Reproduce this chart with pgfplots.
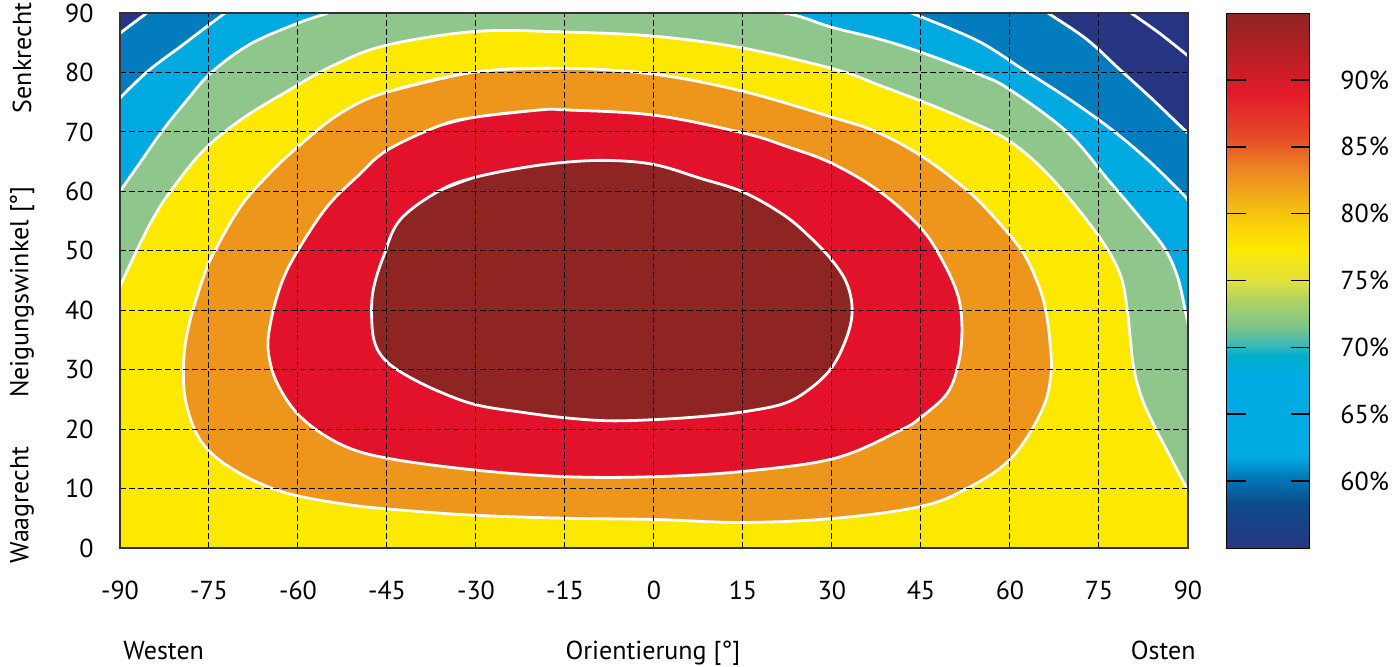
\documentclass[border=0pt]{standalone}
\usepackage{pgfplots}
\pgfplotsset{compat=1.18}
\usepackage{fontspec}
\setmainfont{PT Sans}
\definecolor{cdred}{RGB}{142,37,34}
\definecolor{cred}{RGB}{225,18,42}
\definecolor{corange}{RGB}{238,150,28}
\definecolor{cyellow}{RGB}{253,232,0}
\definecolor{cgreen}{RGB}{143,198,139}
\definecolor{clblue}{RGB}{0,170,225}
\definecolor{cblue}{RGB}{2,124,189}
\definecolor{cnavy}{RGB}{38,54,130}
\pgfkeys{/pgf/number format/assume math mode=true}
\begin{document}
\begin{tikzpicture}[font=\fontsize{13}{15}\selectfont]
\begin{axis}[
  name=main,
  at={(0,0)}, anchor=south west,
  scale only axis, width=534pt, height=267.5pt,
  xmin=-90, xmax=90, ymin=0, ymax=90,
  xtick={-90,-75,...,90}, ytick={0,10,...,90},
  grid=major,
  grid style={black, line width=0.5pt, dash pattern=on 3pt off 1.5pt},
  major tick length=0pt,
  axis on top,
  axis line style={black!80, line width=0.6pt},
  axis background/.style={fill=cyellow},
  xticklabel style={yshift=-13pt},
  yticklabel style={xshift=-9.7pt},
  tick label style={font=\fontsize{13}{15}\selectfont},
  colormap={cb}{
    rgb255(0pt)=(38,54,130)
    rgb255(33pt)=(14,76,140)
    rgb255(53pt)=(0,121,185)
    rgb255(65pt)=(0,160,220)
    rgb255(70pt)=(0,170,226)
    rgb255(130pt)=(0,170,226)
    rgb255(144pt)=(0,176,205)
    rgb255(152pt)=(60,185,180)
    rgb255(165pt)=(125,195,140)
    rgb255(185pt)=(175,210,100)
    rgb255(200pt)=(225,225,60)
    rgb255(225pt)=(255,232,0)
    rgb255(250pt)=(246,196,15)
    rgb255(280pt)=(237,140,35)
    rgb255(310pt)=(230,70,40)
    rgb255(340pt)=(227,26,42)
    rgb255(365pt)=(190,30,38)
    rgb255(400pt)=(142,37,34)
  },
  point meta min=55, point meta max=95,
  colorbar,
  colorbar/width=41.5pt,
  colorbar shift/.style={},
  colorbar style={
    at={(parent axis.north east)}, anchor=north west, xshift=19.5pt,
    scale only axis, width=41.5pt, height=267.5pt,
    axis on top,
    ytick={60,65,...,90},
    yticklabel={\pgfmathprintnumber{\tick}\%},
    yticklabel pos=right,
    ytick pos=both,
    tick align=inside,
    major tick length=9.5pt,
    major tick style={black, line width=0.8pt},
    axis line style={black, line width=0.5pt},
    yticklabel shift=11.7pt,
    yticklabel style={font=\fontsize{13}{15}\selectfont},
  },
]
% 75% contour: green region
\addplot[fill=cgreen, draw=white, line width=1.4pt, smooth, tension=0.6] coordinates {
(-91,41.8) (-90,44) (-87.2,50) (-84.5,55.3) (-81.5,60) (-76,66.8) (-69.7,72) (-62.4,76.5) (-54,81.2) (-45,84.6) (-30,86.9) (-15,86.8) (0,86.1) (15,84.1) (30.6,80.5) (38.1,77.8) (45,75.2) (52,72.3) (60,68.4) (67.3,61.9) (75,52.4) (78.5,46.2) (79.7,40.6) (80.3,35) (80.9,30) (82.3,25) (84.6,20) (87.2,15) (89.8,10) (91,7.5)
} -- (axis cs:95,7.5) -- (axis cs:95,95) -- (axis cs:-95,95) -- (axis cs:-95,41.8) -- cycle;
% 70% contour: light blue, left and right
\addplot[fill=clblue, draw=white, line width=1.4pt, smooth, tension=0.6] coordinates {
(-91,58.5) (-90,60) (-86.5,65) (-83,70) (-79,75) (-74.6,80) (-68,84.8) (-60,88.3) (-55,90) (-53,91)
} -- (axis cs:-53,95) -- (axis cs:-95,95) -- (axis cs:-95,58.5) -- cycle;
\addplot[fill=clblue, draw=white, line width=1.4pt, smooth, tension=0.6] coordinates {
(10,91) (22,90) (30,87.6) (38,85.6) (45,83.4) (55,79.6) (60,77.1) (69.6,70) (76.5,62) (82,55.5) (86,50.5) (88.3,45.4) (89.8,38.7) (90.5,36)
} -- (axis cs:95,36) -- (axis cs:95,95) -- (axis cs:10,95) -- cycle;
% 65% contour: blue
\addplot[fill=cblue, draw=white, line width=1.4pt, smooth, tension=0.6] coordinates {
(-91,74.5) (-90,75.7) (-85.2,80.3) (-79.6,84.5) (-75,88) (-72.3,90) (-71,91)
} -- (axis cs:-71,95) -- (axis cs:-95,95) -- (axis cs:-95,74.5) -- cycle;
\addplot[fill=cblue, draw=white, line width=1.4pt, smooth, tension=0.6] coordinates {
(41,91) (43.4,90) (54.4,85.4) (62.2,80.5) (70,75.5) (77,70.5) (83,65.5) (88.7,60) (90,58.5) (91,57.2)
} -- (axis cs:95,57.2) -- (axis cs:95,95) -- (axis cs:41,95) -- cycle;
% 60% contour: navy
\addplot[fill=cnavy, draw=white, line width=1.4pt, smooth, tension=0.6] coordinates {
(-91,85.8) (-90,86.6) (-87.5,88.5) (-85.5,90) (-84.5,91)
} -- (axis cs:-84.5,95) -- (axis cs:-95,95) -- (axis cs:-95,85.8) -- cycle;
\addplot[fill=cnavy, draw=white, line width=1.4pt, smooth, tension=0.6] coordinates {
(65,91) (66.4,90) (72.9,85.6) (78.5,80.5) (84,75.5) (88.7,71) (90,69.8) (91,68.8)
} -- (axis cs:95,68.8) -- (axis cs:95,95) -- (axis cs:65,95) -- cycle;
% 55% contour line
\addplot[draw=white, line width=1.4pt, smooth, tension=0.6] coordinates {
(79,91) (80.4,90) (85.2,86.6) (90,82.8) (91,82)
};
% 80% contour: orange
\addplot[fill=corange, draw=white, line width=1.4pt, smooth, tension=0.6] coordinates {
(-45,76.7)
(-30,80.1) (-14.9,80.7) (0.1,79.7) (15.1,76.8) (30.6,72.3) (37.5,70) (45,66) (52.4,60.5) (57,56) (62,50) (64.5,45) (65.9,40.6) (66.7,35) (66.9,29.2) (65.3,23) (60.2,15.1) (52.9,10.1) (45,7) (30.5,5.0) (15.1,4.3) (0.1,4.8) (-14.9,5.0) (-30,5.5) (-40.4,6.2) (-51.6,7.3) (-62.8,9.5) (-71.2,13.4) (-76.3,17.9) (-78.8,24.1) (-79.3,30.3) (-78.5,37) (-76,45.4) (-74,50) (-69.7,57.4) (-65,62.8) (-60,67.5) (-52.9,73.1) (-45,76.7)
(-30,80.1) (-14.9,80.7)
};
% 85% contour: red
\addplot[fill=cred, draw=white, line width=1.4pt, smooth, tension=0.6] coordinates {
(-36,71.1)
(-30,72.5) (-19.2,73.7) (-14.9,73.7) (0.1,72.8) (15.1,69.8) (22.5,67.5) (30,64.7) (38,60) (45,53.8) (48.8,48) (51.3,42.2) (51.9,36.6) (51.3,31) (49.4,26) (45,22) (41.5,19.8) (30.5,15.1) (15.1,12.9) (0.1,12.0) (-14.9,12.0) (-30,13.1) (-44.9,15.1) (-52.7,17.4) (-59.4,21.9) (-63.4,27.5) (-65,33) (-64.6,38) (-62.8,44.5) (-60,50.1) (-55.1,57.4) (-50,62.5) (-45,66.9) (-36,71.1)
(-30,72.5) (-19.2,73.7)
};
% 90% contour: dark red
\addplot[fill=cdred, draw=white, line width=1.4pt, smooth, tension=0.6] coordinates {
(-36,60.2)
(-30,62.4) (-22,64) (-14.9,64.9) (-7.6,65.2) (0.1,64.5) (7.8,62.2) (15,59.9) (21.9,56) (26.3,52.3) (30,48.4) (32.5,44.5) (33.4,40) (32.5,35.5) (30,30.4) (26.3,26.8) (21.9,24.3) (15,22.9) (7.8,22.1) (0.1,21.6) (-7.6,21.4) (-14.9,21.9) (-22,22.8) (-30,24.1) (-36.4,26.4) (-42,29.2) (-45.5,31.8) (-47.2,35) (-47.6,40) (-47.2,44) (-45.6,49) (-42.8,55.2) (-36,60.2)
(-30,62.4) (-22,64)
};
\end{axis}
\node[rotate=90] at (-49pt,245pt) {Senkrecht};
\node[rotate=90] at (-49pt,128pt) {Neigungswinkel [°]};
\node[rotate=90] at (-49pt,21.5pt) {Waagrecht};
\node[anchor=base west, inner sep=0pt] at (1.5pt,-55.5pt) {Westen};
\node[anchor=base] at (266.5pt,-55.5pt) {Orientierung [°]};
\node[anchor=base east, inner sep=0pt] at (538pt,-55.5pt) {Osten};
\pgfresetboundingbox
\path[use as bounding box] (-60pt,-59pt) rectangle (639pt,274pt);
\end{tikzpicture}
\end{document}
